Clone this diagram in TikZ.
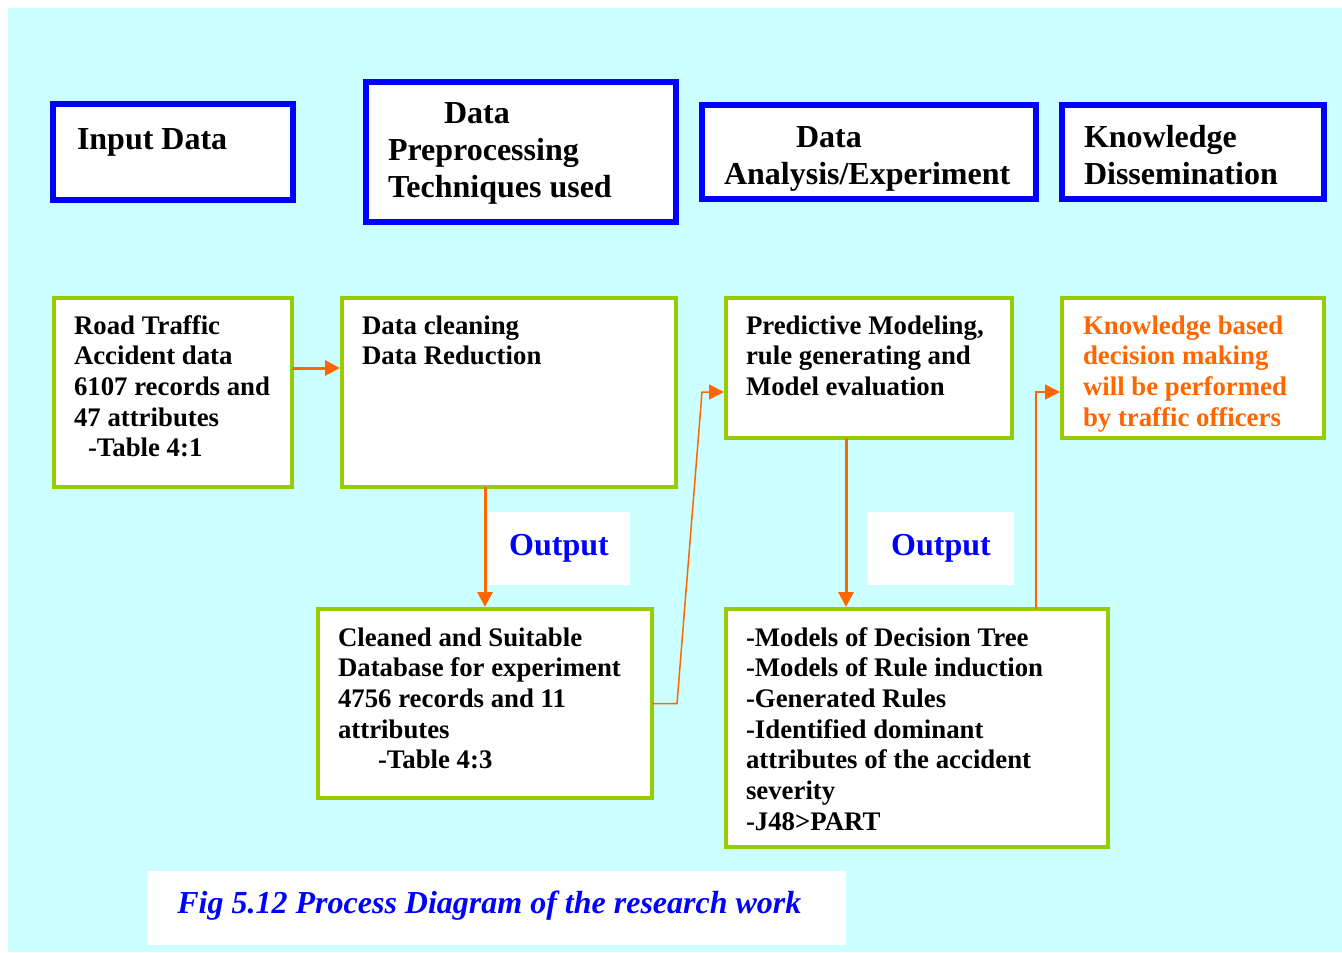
\documentclass[tikz,border=0pt]{standalone}
\usepackage{fontspec}
\setmainfont{Liberation Serif}
\usetikzlibrary{arrows.meta}
\definecolor{bgcyan}{HTML}{CCFFFF}
\definecolor{hdblue}{HTML}{0000FF}
\definecolor{boxgreen}{HTML}{99CC00}
\definecolor{flow}{HTML}{FF6600}

\begin{document}
\begin{tikzpicture}[x=0.5pt, y=-0.5pt,
    head/.style = {draw=hdblue, line width=3pt, fill=white, anchor=north west, outer sep=0pt,
                   inner xsep=11pt, inner ysep=0pt, align=flush left,
                   font=\fontsize{16}{18.5}\selectfont\bfseries},
    stage/.style = {draw=boxgreen, line width=2pt, fill=white, anchor=north west, outer sep=0pt,
                    inner xsep=10pt, inner ysep=0pt, align=flush left, text height=18pt,
                    font=\fontsize{13.4}{15.35}\selectfont\bfseries},
    outlabel/.style = {fill=white, inner sep=0pt, minimum height=36.5pt, text=hdblue,
                       font=\fontsize{16}{18.5}\selectfont\bfseries},
    bigarrow/.style = {draw=flow, line width=1.5pt, shorten >=1pt, -{Triangle[length=7.5pt,width=7.5pt]}},
    thinarrow/.style = {draw=flow, line width=0.75pt, shorten >=1pt, -{Triangle[length=7.5pt,width=7.5pt]}}]

    \fill[white] (0,0) rectangle (1342,952);
    \fill[bgcyan] (8,8) rectangle (1342,952);
    \useasboundingbox (0,0) rectangle (1342,952);

    % phase headings
    \node[head, inner xsep=12pt, text width=96pt, text height=23pt, text depth=25pt] (input) at (53,104) {Input Data};
    \node[head, text width=133pt, text height=21pt, text depth=49pt] (prep) at (366,82) {\hspace*{28pt}Data\\Preprocessing\\Techniques used};
    \node[head, text width=145pt, text height=21.5pt, text depth=25.5pt] (anal) at (702,105) {\hspace*{36pt}Data\\Analysis/Experiment};
    \node[head, text width=109pt, text height=21.5pt, text depth=25.5pt] (dissem) at (1062,105) {Knowledge\\Dissemination};

    % process steps
    \node[stage, text width=99pt, text depth=76.5pt] (road) at (54,298) {Road Traffic\\Accident data\\6107 records and\\47 attributes\\\hspace*{7pt}-Table 4:1};
    \node[stage, text width=147pt, text depth=76.5pt] (clean) at (342,298) {Data cleaning\\Data Reduction};
    \node[stage, text width=123pt, text depth=52pt] (predict) at (726,298) {Predictive Modeling,\\rule generating and\\Model evaluation};
    \node[stage, inner xsep=10.5pt, text width=110pt, text depth=52pt, text=flow] (decide) at (1062,298) {Knowledge based\\decision making\\will be performed\\by traffic officers};
    \node[stage, text height=18.5pt, text width=147pt, text depth=76pt] (cleaned) at (318,609) {Cleaned and Suitable\\Database for experiment\\4756 records and 11\\attributes\\\hspace*{20pt}-Table 4:3};
    \node[stage, text height=18.5pt, text width=171pt, text depth=100.5pt] (models) at (726,609) {-Models of Decision Tree\\-Models of Rule induction\\-Generated Rules\\-Identified dominant\\attributes of the accident\\severity\\-J48>PART};

    \node[outlabel, minimum width=71pt] (out1) at (559,548.5) {Output};
    \node[outlabel, minimum width=73pt] (out2) at (941,548.5) {Output};

    \node[fill=white, anchor=north west, inner xsep=14.5pt, inner ysep=0pt, text width=320pt,
          text height=21pt, text depth=16pt, align=flush left, text=hdblue,
          font=\fontsize{16}{18.5}\selectfont\bfseries\itshape] (caption) at (148,871) {Fig 5.12 Process Diagram of the research work};

    % flow
    \draw[bigarrow] ([yshift=12.25pt]road.east) -- ([yshift=12.25pt]clean.west);
    \draw[bigarrow] (clean.south -| cleaned.north) -- (cleaned.north);
    \draw[bigarrow] ([xshift=-11.5pt]predict.south) -- ([xshift=-11.5pt]predict.south |- models.north);
    \coordinate (hop) at ([xshift=-12pt,yshift=-12pt]predict.west);
    \draw[thinarrow] (cleaned.east) -- ++(12.5pt,0) -- (hop) -- ([yshift=-12pt]predict.west);
    \coordinate (bend) at ([xshift=-13pt,yshift=-12pt]decide.west);
    \draw[thinarrow] (models.north -| bend) -- (bend) -- ([yshift=-12pt]decide.west);
\end{tikzpicture}
\end{document}
